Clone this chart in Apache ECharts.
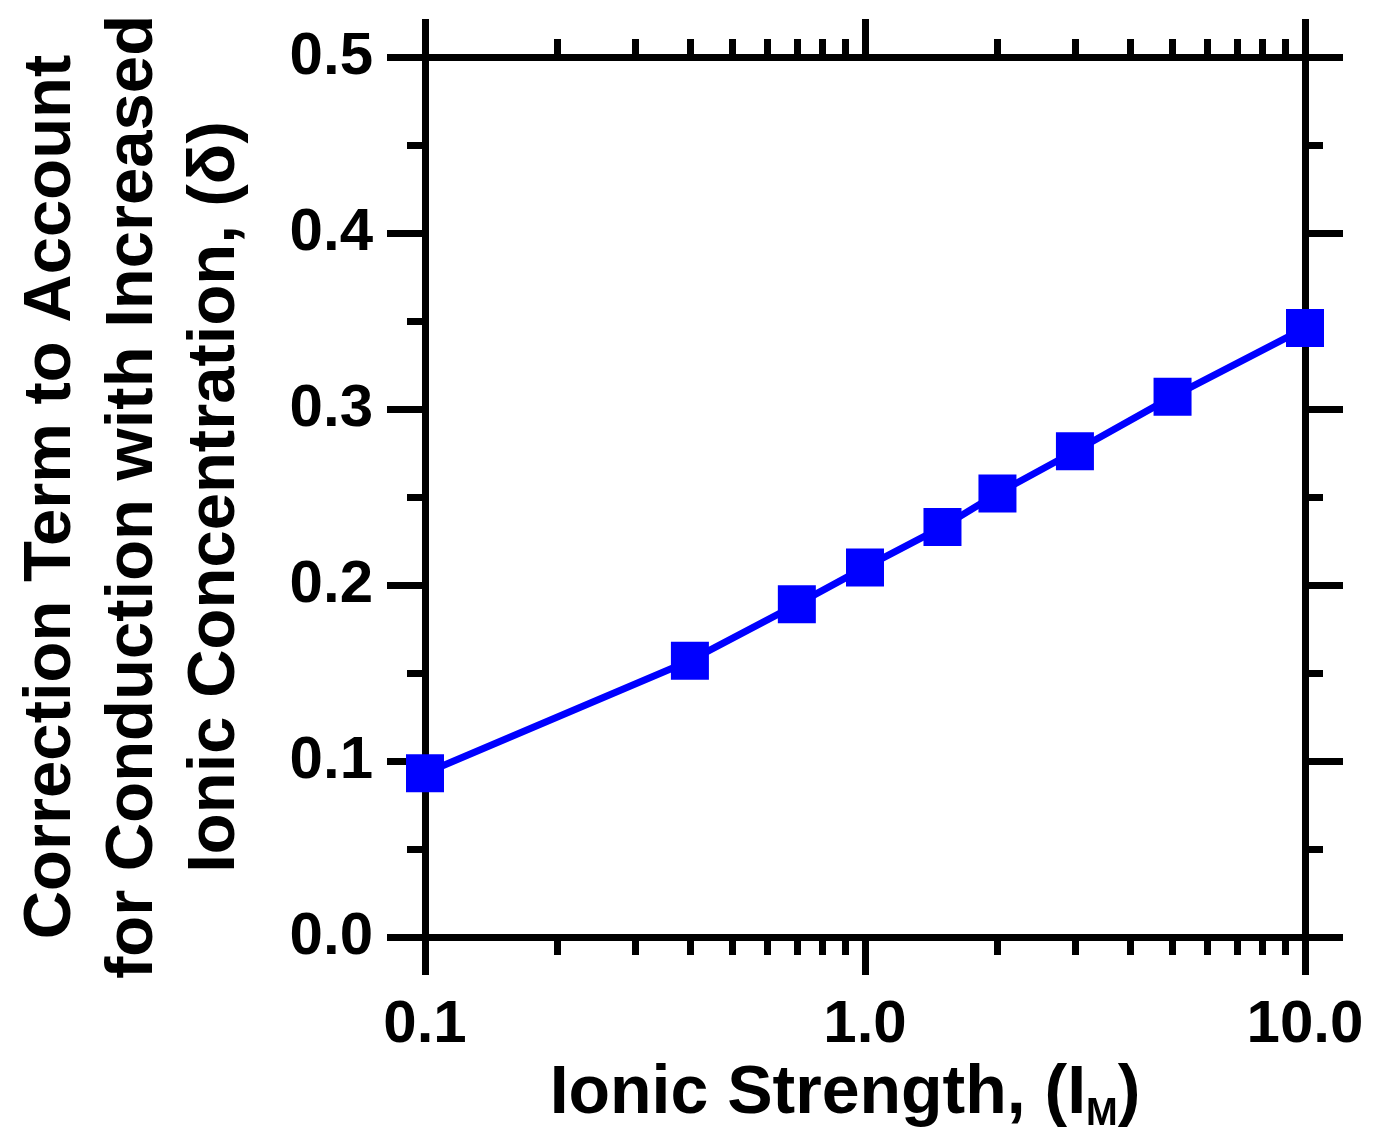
<!DOCTYPE html>
<html>
<head>
<meta charset="utf-8">
<script src="https://cdn.jsdelivr.net/npm/echarts@6/dist/echarts.min.js"></script>
<style>
html,body{margin:0;padding:0;background:#fff;}
#chart{width:1373px;height:1143px;}
</style>
</head>
<body>
<div id="chart"></div>
<script>
const ionicStrength = [0.1, 0.4, 0.7, 1.0, 1.5, 2.0, 3.0, 5.0, 10.0];
const delta = [0.093, 0.157, 0.189, 0.210, 0.233, 0.252, 0.276, 0.307, 0.346];
const xMajorTicks = [0.1, 1, 10];
const xMinorTicks = [0.2, 0.3, 0.4, 0.5, 0.6, 0.7, 0.8, 0.9, 2, 3, 4, 5, 6, 7, 8, 9];
const yMin = 0, yMax = 0.5, yStep = 0.1;
const xTitle = '{a|Ionic Strength, (I}{sub|M}{a|)}';
const yTitle = 'Correction Term to Account\nfor Conduction with Increased\nIonic Concentration, (\u03b4)';

const FONT = "'Liberation Sans', Arial, Helvetica, sans-serif";
const AX = {color: '#000', width: 7};

function xAxisDef(pos, ticks, len, showLabel, withName) {
  const a = {
    type: 'log', logBase: 10, min: 0.1, max: 10, position: pos,
    axisLine: {show: true, lineStyle: AX},
    axisTick: {show: true, inside: false, length: len, lineStyle: AX, customValues: ticks},
    axisLabel: {show: showLabel, customValues: xMajorTicks, formatter: v => Number(v).toFixed(1),
      fontFamily: FONT, fontSize: 60, fontWeight: 'bold', color: '#000', margin: 58},
    splitLine: {show: false}, minorTick: {show: false}, minorSplitLine: {show: false}
  };
  if (withName) {
    a.name = xTitle;
    a.nameLocation = 'middle';
    a.nameGap = 112;
    a.nameTextStyle = {
      padding: [0, 40, 0, 0],
      rich: {
        a: {fontFamily: FONT, fontSize: 68, fontWeight: 'bold', color: '#000', lineHeight: 80, verticalAlign: 'middle'},
        sub: {fontFamily: FONT, fontSize: 38, fontWeight: 'bold', color: '#000', lineHeight: 26, verticalAlign: 'bottom'}
      }
    };
  }
  return a;
}
function yAxisDef(pos, showLabel, withName) {
  const a = {
    type: 'value', min: yMin, max: yMax, interval: yStep, position: pos,
    axisLine: {show: true, lineStyle: AX},
    axisTick: {show: true, inside: false, length: 38, lineStyle: AX},
    minorTick: {show: true, splitNumber: 2, length: 18, lineStyle: AX},
    axisLabel: {show: showLabel, formatter: v => Number(v).toFixed(1),
      fontFamily: FONT, fontSize: 60, fontWeight: 'bold', color: '#000', margin: 52},
    splitLine: {show: false}, minorSplitLine: {show: false}
  };
  if (withName) {
    a.name = yTitle;
    a.nameLocation = 'middle';
    a.nameRotate = 90;
    a.nameGap = 168;
    a.nameTextStyle = {fontFamily: FONT, fontSize: 67, fontWeight: 'bold', color: '#000', lineHeight: 82, align: 'center'};
  }
  return a;
}

const chart = echarts.init(document.getElementById('chart'), null, {renderer: 'canvas'});
chart.setOption({
  backgroundColor: '#fff',
  animation: false,
  grid: {left: 425, right: 68, top: 57, bottom: 206, containLabel: false, outerBoundsMode: 'none'},
  xAxis: [
    xAxisDef('bottom', xMajorTicks, 38, true, true),
    xAxisDef('bottom', xMinorTicks, 18, false, false),
    xAxisDef('top', xMajorTicks, 38, false, false),
    xAxisDef('top', xMinorTicks, 18, false, false)
  ],
  yAxis: [
    yAxisDef('left', true, true),
    yAxisDef('right', false, false)
  ],
  series: [{
    type: 'line',
    xAxisIndex: 0, yAxisIndex: 0,
    data: ionicStrength.map((x, i) => [x, delta[i]]),
    symbol: 'rect', symbolSize: 38,
    clip: false,
    itemStyle: {color: '#0000ff'},
    lineStyle: {color: '#0000ff', width: 7},
    z: 3
  }]
});
</script>
</body>
</html>
